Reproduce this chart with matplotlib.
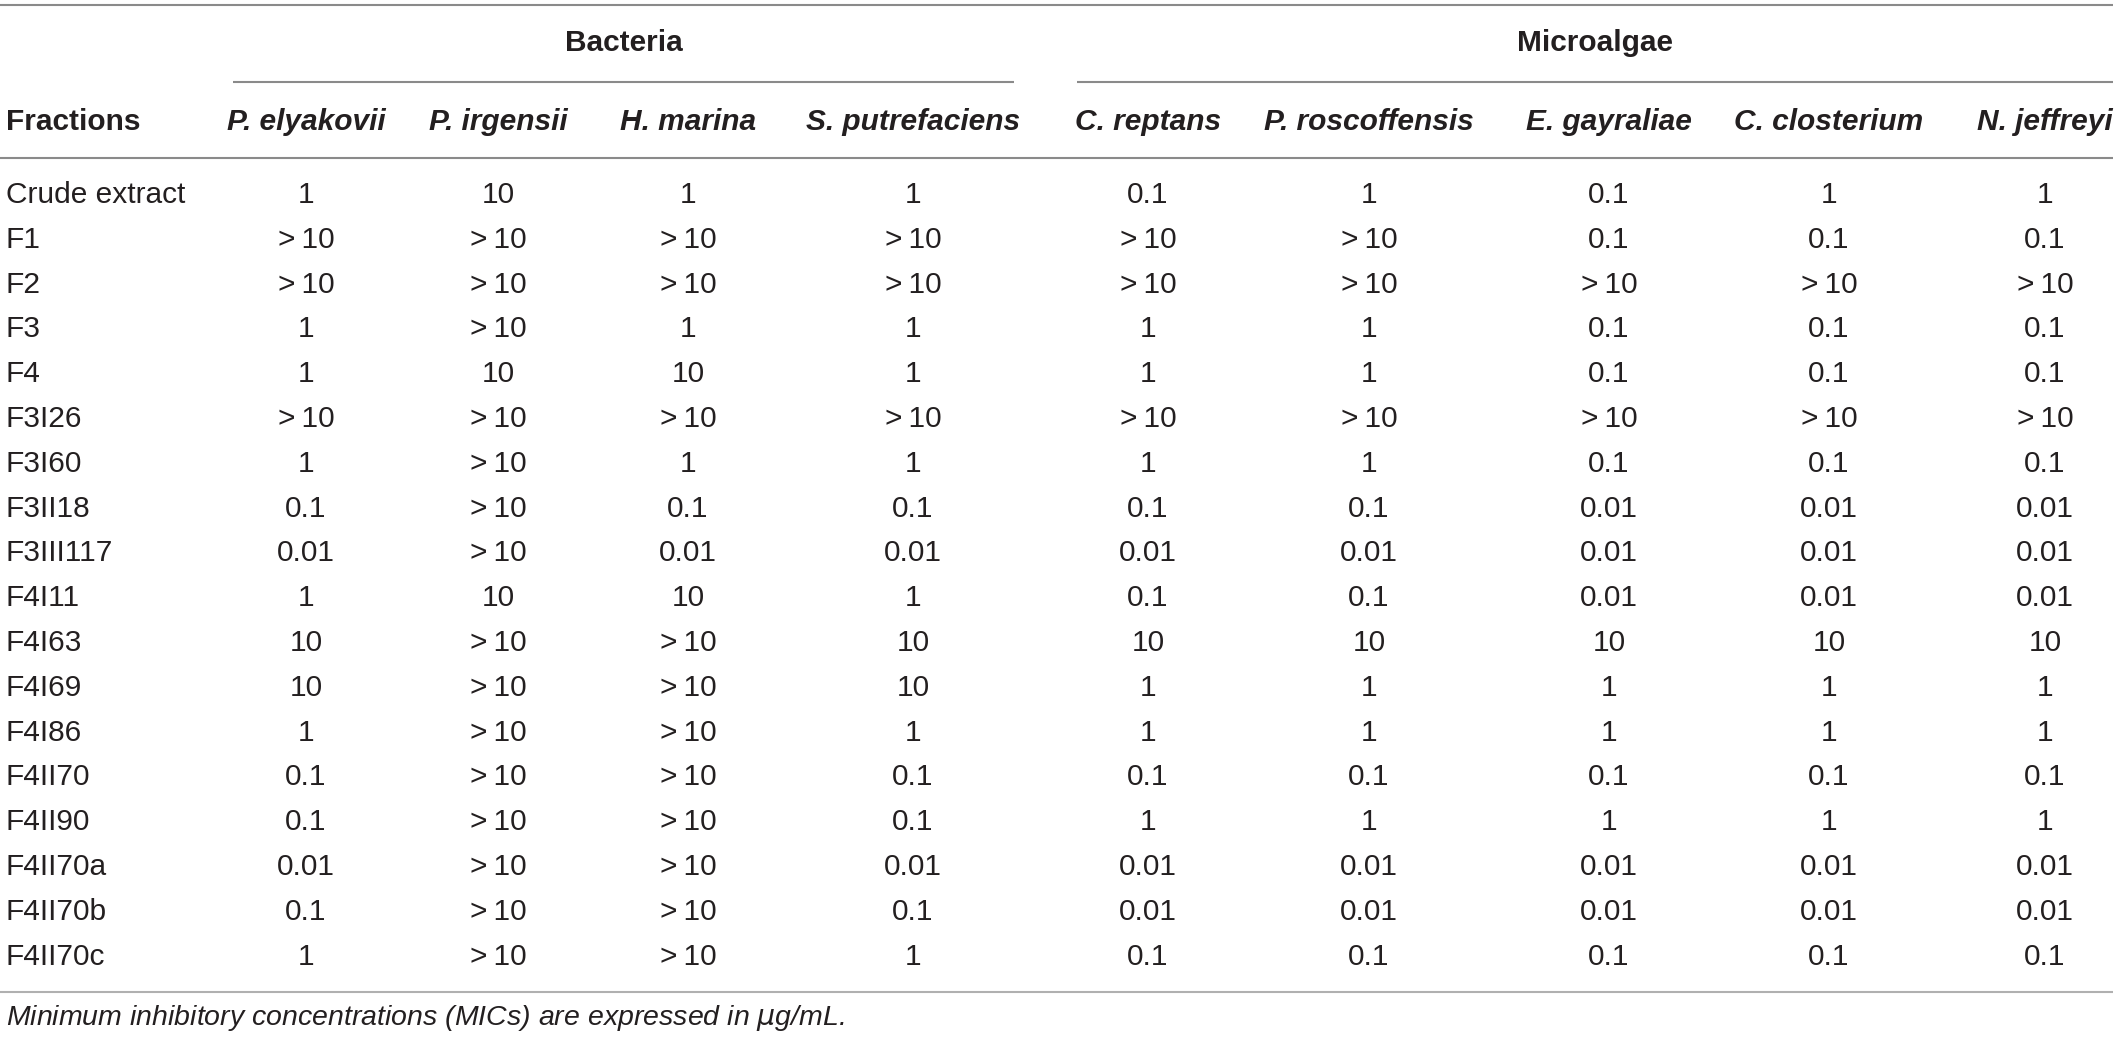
import matplotlib
matplotlib.use("Agg")
import matplotlib.pyplot as plt
from matplotlib import font_manager as fm

# ---------------- data ----------------
fractions = ["Crude extract", "F1", "F2", "F3", "F4", "F3I26", "F3I60", "F3II18",
             "F3III117", "F4I11", "F4I63", "F4I69", "F4I86", "F4II70", "F4II90",
             "F4II70a", "F4II70b", "F4II70c"]

groups = ["Bacteria", "Microalgae"]
bacteria = ["P. elyakovii", "P. irgensii", "H. marina", "S. putrefaciens"]
microalgae = ["C. reptans", "P. roscoffensis", "E. gayraliae", "C. closterium", "N. jeffreyi"]

G = ">10"
p_elyakovii     = ["1", G, G, "1", "1", G, "1", "0.1", "0.01", "1", "10", "10", "1", "0.1", "0.1", "0.01", "0.1", "1"]
p_irgensii      = ["10", G, G, G, "10", G, G, G, G, "10", G, G, G, G, G, G, G, G]
h_marina        = ["1", G, G, "1", "10", G, "1", "0.1", "0.01", "10", G, G, G, G, G, G, G, G]
s_putrefaciens  = ["1", G, G, "1", "1", G, "1", "0.1", "0.01", "1", "10", "10", "1", "0.1", "0.1", "0.01", "0.1", "1"]
c_reptans       = ["0.1", G, G, "1", "1", G, "1", "0.1", "0.01", "0.1", "10", "1", "1", "0.1", "1", "0.01", "0.01", "0.1"]
p_roscoffensis  = ["1", G, G, "1", "1", G, "1", "0.1", "0.01", "0.1", "10", "1", "1", "0.1", "1", "0.01", "0.01", "0.1"]
e_gayraliae     = ["0.1", "0.1", G, "0.1", "0.1", G, "0.1", "0.01", "0.01", "0.01", "10", "1", "1", "0.1", "1", "0.01", "0.01", "0.1"]
c_closterium    = ["1", "0.1", G, "0.1", "0.1", G, "0.1", "0.01", "0.01", "0.01", "10", "1", "1", "0.1", "1", "0.01", "0.01", "0.1"]
n_jeffreyi      = ["1", "0.1", G, "0.1", "0.1", G, "0.1", "0.01", "0.01", "0.01", "10", "1", "1", "0.1", "1", "0.01", "0.01", "0.1"]

columns = [p_elyakovii, p_irgensii, h_marina, s_putrefaciens,
           c_reptans, p_roscoffensis, e_gayraliae, c_closterium, n_jeffreyi]
species = bacteria + microalgae

row_header = "Fractions"
footnote = "Minimum inhibitory concentrations (MICs) are expressed in $\\mu$g/mL."

# ---------------- layout ----------------
W, H = 2117, 1041
fig = plt.figure(figsize=(W / 100, H / 100), dpi=100)
ax = fig.add_axes([0, 0, 1, 1])
ax.set_xlim(0, W)
ax.set_ylim(H, 0)
ax.axis("off")

names = [f.name for f in fm.fontManager.ttflist]
fam = "Liberation Sans Narrow" if "Liberation Sans Narrow" in names else "Liberation Sans"
families = [fam, "DejaVu Sans"]

txt = "#231f20"
rule = "#8a8a8a"
fs = 21.5

col_x = [306, 498, 688, 913, 1148, 1369, 1609, 1829, 2045]
label_x = 6
row_y0 = 195
row_dy = 44.8

# rules
ax.plot([0, 2113], [5, 5], color=rule, lw=1.5, solid_capstyle="butt")
ax.plot([233, 1014], [82, 82], color=rule, lw=1.5, solid_capstyle="butt")
ax.plot([1077, 2113], [82, 82], color=rule, lw=1.5, solid_capstyle="butt")
ax.plot([0, 2113], [158, 158], color=rule, lw=1.5, solid_capstyle="butt")
ax.plot([0, 2113], [992, 992], color="#b0b0b0", lw=1.5, solid_capstyle="butt")

# group headers
ax.text((233 + 1014) / 2, 43, groups[0], ha="center", va="center", fontsize=fs,
        fontweight="bold", family=families, color=txt)
ax.text((1077 + 2113) / 2, 43, groups[1], ha="center", va="center", fontsize=fs,
        fontweight="bold", family=families, color=txt)

# column headers
hy = 122
ax.text(label_x, hy, row_header, ha="left", va="center", fontsize=fs,
        fontweight="bold", family=families, color=txt)
for x, name in zip(col_x, species):
    ax.text(x, hy, name, ha="center", va="center", fontsize=fs, fontweight="bold",
            style="italic", family=families, color=txt)

# body
for i, frac in enumerate(fractions):
    y = row_y0 + i * row_dy
    ax.text(label_x, y, frac, ha="left", va="center", fontsize=fs,
            family=families, color=txt)
    for x, col in zip(col_x, columns):
        v = col[i]
        if v.startswith(">"):
            v = ">\u2009" + v[1:]
        ax.text(x, y, v, ha="center", va="center", fontsize=fs,
                family=families, color=txt)

ax.text(label_x, 1018, footnote, ha="left", va="center", fontsize=fs - 1,
        style="italic", family=families, color=txt)

fig.savefig("out.png", dpi=100, facecolor="white")
